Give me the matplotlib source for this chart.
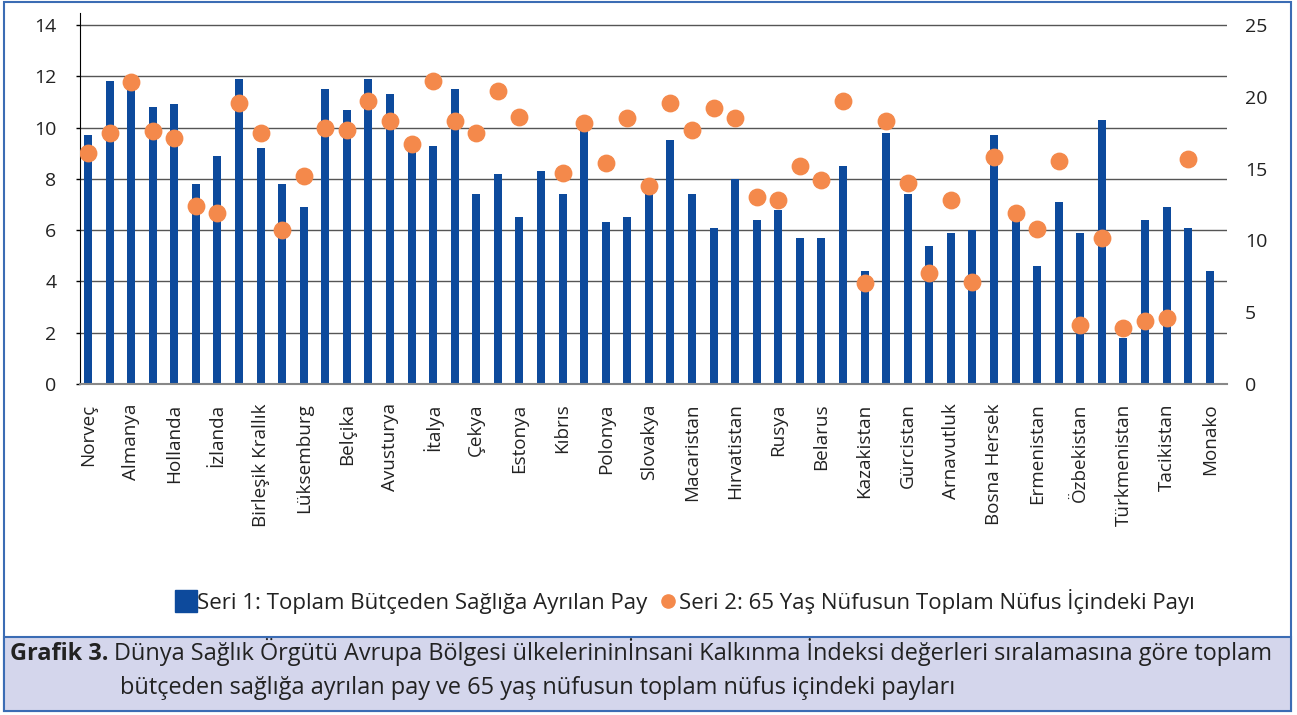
import numpy as np
import matplotlib
matplotlib.use('Agg')
import matplotlib.pyplot as plt
from matplotlib.patches import Rectangle
from matplotlib.lines import Line2D

plt.rcParams['font.family'] = ['Open Sans', 'DejaVu Sans']

# every other country is labelled on the axis (53 bars in total)
tick_labels = ['Norveç', 'Almanya', 'Hollanda', 'İzlanda', 'Birleşik Krallık', 'Lüksemburg',
               'Belçika', 'Avusturya', 'İtalya', 'Çekya', 'Estonya', 'Kıbrıs', 'Polonya',
               'Slovakya', 'Macaristan', 'Hırvatistan', 'Rusya', 'Belarus', 'Kazakistan',
               'Gürcistan', 'Arnavutluk', 'Bosna Hersek', 'Ermenistan', 'Özbekistan',
               'Türkmenistan', 'Tacikistan', 'Monako']

seri1 = [9.7, 11.8, 11.7, 10.8, 10.9, 7.8, 8.9, 11.9, 9.2, 7.8, 6.9, 11.5, 10.7, 11.9, 11.3,
         9.1, 9.3, 11.5, 7.4, 8.2, 6.5, 8.3, 7.4, 9.9, 6.3, 6.5, 7.4, 9.5, 7.4, 6.1, 8.0,
         6.4, 6.8, 5.7, 5.7, 8.5, 4.4, 9.8, 7.4, 5.4, 5.9, 6.0, 9.7, 6.4, 4.6, 7.1, 5.9,
         10.3, 1.8, 6.4, 6.9, 6.1, 4.4]

seri2 = [16.1, 17.5, 21.0, 17.6, 17.1, 12.4, 11.9, 19.6, 17.5, 10.7, 14.5, 17.8, 17.7, 19.7,
         18.3, 16.7, 21.1, 18.3, 17.5, 20.4, 18.6, np.nan, 14.7, 18.2, 15.4, 18.5, 13.8, 19.6,
         17.7, 19.2, 18.5, 13.0, 12.8, 15.2, 14.2, 19.7, 7.0, 18.3, 14.0, 7.7, 12.8, 7.1,
         15.8, 11.9, 10.8, 15.5, 4.1, 10.2, 3.9, 4.4, 4.6, 15.7, np.nan]

blue = '#0d4a9c'
orange = '#f4894b'
frame = '#3b6cb4'

W, H = 1297, 715
fig = plt.figure(figsize=(W / 100, H / 100), dpi=100)


def fx(x):
    return x / W


def fy(y):
    return 1 - y / H


# frame and caption box
fig.patches.append(Rectangle((fx(4), fy(711)), fx(1291) - fx(4), fy(2) - fy(711),
                             transform=fig.transFigure, fill=False, edgecolor=frame, lw=1.5))
fig.patches.append(Rectangle((fx(4), fy(711)), fx(1291) - fx(4), fy(637) - fy(711),
                             transform=fig.transFigure, facecolor='#d4d6ec', edgecolor=frame, lw=1.5))

top = 14 + (25 - 12.7) / 25.64
ax = fig.add_axes([fx(80), fy(384), fx(1227) - fx(80), fy(12.7) - fy(384)])
x = np.arange(len(seri1))
ax.bar(x, seri1, width=0.37, color=blue, zorder=2)
ax.set_xlim(-0.37, 52.8)
ax.set_ylim(0, top)
ax.set_yticks(range(0, 15, 2))
ax.grid(axis='y', color='#555555', lw=1, zorder=0)
ax.set_xticks(x[::2])
ax.set_xticklabels(tick_labels, rotation=90, fontsize=13.6, color='#222222', va='top')
ax.tick_params(axis='x', length=0, pad=14)
ax.tick_params(axis='y', length=3, width=1, color='black', pad=14, labelsize=14, labelcolor='#222222')
for s in ['top', 'right']:
    ax.spines[s].set_visible(False)
ax.spines['bottom'].set_color('#888888')
ax.spines['bottom'].set_linewidth(1.5)
ax.spines['left'].set_color('black')

ax2 = ax.twinx()
ax2.scatter(x, seri2, s=140, color=orange, zorder=3)
ax2.set_ylim(0, 25 * top / 14)
ax2.set_yticks(range(0, 26, 5))
ax2.tick_params(axis='y', length=0, pad=13, labelsize=14, labelcolor='#222222')
for s in ax2.spines.values():
    s.set_visible(False)

handles = [Line2D([], [], marker='s', color=blue, ls='', markersize=16.5),
           Line2D([], [], marker='o', color=orange, ls='', markersize=9.5)]
fig.legend(handles, ['Seri 1: Toplam Bütçeden Sağlığa Ayrılan Pay',
                     'Seri 2: 65 Yaş Nüfusun Toplam Nüfus İçindeki Payı'],
           loc='center', bbox_to_anchor=(fx(686), fy(601)), ncol=2, frameon=False,
           fontsize=16, handlelength=0.8, handletextpad=0.1, columnspacing=0.5,
           labelcolor='#222222')

# caption
t1 = fig.text(fx(10), fy(660), 'Grafik 3.', fontsize=16.9, fontweight='bold', color='#222222')
fig.canvas.draw()
bb = t1.get_window_extent()
fig.text(bb.x1 / W + fx(6), fy(660),
         'Dünya Sağlık Örgütü Avrupa Bölgesi ülkelerininİnsani Kalkınma İndeksi değerleri sıralamasına göre toplam',
         fontsize=16.9, color='#222222')
fig.text(fx(120), fy(694), 'bütçeden sağlığa ayrılan pay ve 65 yaş nüfusun toplam nüfus içindeki payları',
         fontsize=16.9, color='#222222')

fig.savefig('out.png', dpi=100)
